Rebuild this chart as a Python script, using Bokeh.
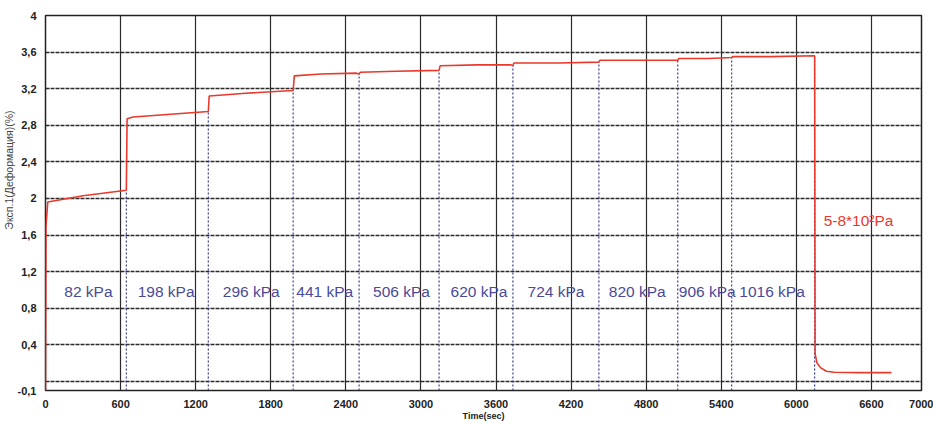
import numpy as np
from bokeh.plotting import figure
from bokeh.models import Range1d, FixedTicker, Label, ColumnDataSource, Title
from bokeh.core.properties import value
from bokeh.embed import file_html
from bokeh.resources import INLINE

# Creep curve: time (s) vs. strain (%)
time_s = [0, 4, 18, 300, 646, 652, 700, 1000, 1301, 1308, 1600, 1979, 1988, 2200,
          2480, 2506, 2515, 2800, 3145, 3153, 3450, 3720, 3735, 3742, 4100, 4422,
          4430, 4750, 5052, 5060, 5300, 5483, 5490, 5800, 6146, 6150, 6165, 6193,
          6240, 6300, 6500, 6760]
strain = [-0.1, 1.70, 1.96, 2.03, 2.09, 2.87, 2.89, 2.92, 2.95, 3.12, 3.15, 3.18,
          3.34, 3.36, 3.37, 3.36, 3.38, 3.39, 3.40, 3.45, 3.46, 3.46, 3.45, 3.48,
          3.48, 3.49, 3.51, 3.51, 3.51, 3.53, 3.53, 3.54, 3.55, 3.55, 3.56, 0.30,
          0.20, 0.15, 0.11, 0.10, 0.095, 0.095]

# Load steps: change times and applied pressure
step_times = [646, 1301, 1979, 2506, 3145, 3735, 4422, 5052, 5483, 6146]
load_labels = ["82 kPa", "198 kPa", "296 kPa", "441 kPa", "506 kPa", "620 kPa",
               "724 kPa", "820 kPa", "906 kPa", "1016 kPa"]
label_times = [343, 964, 1644, 2231, 2845, 3464, 4079, 4729, 5288, 5806]
label_level = 0.98

unload_text = "5-8*10²Pa"
unload_time = 6218
unload_level = 1.76

x_ticks = [0, 600, 1200, 1800, 2400, 3000, 3600, 4200, 4800, 5400, 6000, 6600, 7000]
y_ticks = [-0.1, 0.4, 0.8, 1.2, 1.6, 2.0, 2.4, 2.8, 3.2, 3.6, 4.0]
y_grid = [0.0, 0.4, 0.8, 1.2, 1.6, 2.0, 2.4, 2.8, 3.2, 3.6]
x_grid = [600, 1200, 1800, 2400, 3000, 3600, 4200, 4800, 5400, 6000, 6600]

FONT = "Liberation Sans"

p = figure(width=933, height=423, output_backend="svg", toolbar_location=None,
           x_range=Range1d(0, 7000), y_range=Range1d(-0.1, 4.0),
           min_border_left=44, min_border_right=12, min_border_top=15,
           min_border_bottom=32)
p.background_fill_color = "white"
p.border_fill_color = "white"
p.outline_line_color = "#222222"
p.outline_line_width = 1.5

# Axes
p.xaxis.ticker = FixedTicker(ticks=x_ticks)
p.yaxis.ticker = FixedTicker(ticks=y_ticks)
p.yaxis.major_label_overrides = {t: (f"{t:g}".replace(".", ",")) for t in y_ticks}
for ax in (p.xaxis, p.yaxis):
    ax.axis_line_color = None
    ax.major_tick_line_color = None
    ax.minor_tick_line_color = None
    ax.major_label_text_font = FONT
    ax.major_label_text_font_style = "bold"
    ax.major_label_text_font_size = "11px"
    ax.major_label_text_color = "#222222"
p.xaxis.major_label_standoff = 3
p.yaxis.major_label_standoff = 3
p.xaxis.axis_label = "Time(sec)"
p.xaxis.axis_label_text_font = FONT
p.xaxis.axis_label_text_font_style = "bold"
p.xaxis.axis_label_text_font_size = "9px"
p.xaxis.axis_label_text_color = "#222222"
p.xaxis.axis_label_standoff = 0

# Y-axis title, shifted toward the top of the frame
p.add_layout(Title(text="Эксп.1(Деформация)(%)", align="right", offset=95,
                   standoff=0, text_font=FONT, text_font_size="10.5px",
                   text_font_style="normal", text_color="#444444"), "left")

# Grid
p.xgrid.ticker = FixedTicker(ticks=x_grid)
p.xgrid.grid_line_color = "#2a2a2a"
p.xgrid.grid_line_width = 1.2
p.ygrid.ticker = FixedTicker(ticks=y_grid)
p.ygrid.grid_line_color = "#2a2a2a"
p.ygrid.grid_line_width = 1.6
p.ygrid.grid_line_dash = "4 1"

# Dotted markers at each load change, up to the curve
tops = np.interp(np.array(step_times) - 1, time_s, strain)
tops[-1] = max(strain)
p.segment(x0=step_times, y0=[-0.1] * len(step_times), x1=step_times, y1=tops,
          line_color="#3c3c96", line_width=1.2, line_dash="2 2")

# Strain curve
p.line(time_s, strain, line_color="#e8392c", line_width=1.6)

# Load labels
src = ColumnDataSource(dict(x=label_times, y=[label_level] * len(label_times),
                            t=load_labels))
p.text(x="x", y="y", text="t", source=src, text_align="center",
       text_baseline="middle", text_font_size="15.5px",
       text_color="#4a4a98", text_font=value(FONT))
p.add_layout(Label(x=unload_time, y=unload_level, text=unload_text,
                   text_align="left", text_baseline="middle",
                   text_font_size="15.5px", text_color="#e8392c", text_font=FONT))

open("out.html", "w").write(file_html(p, INLINE))
